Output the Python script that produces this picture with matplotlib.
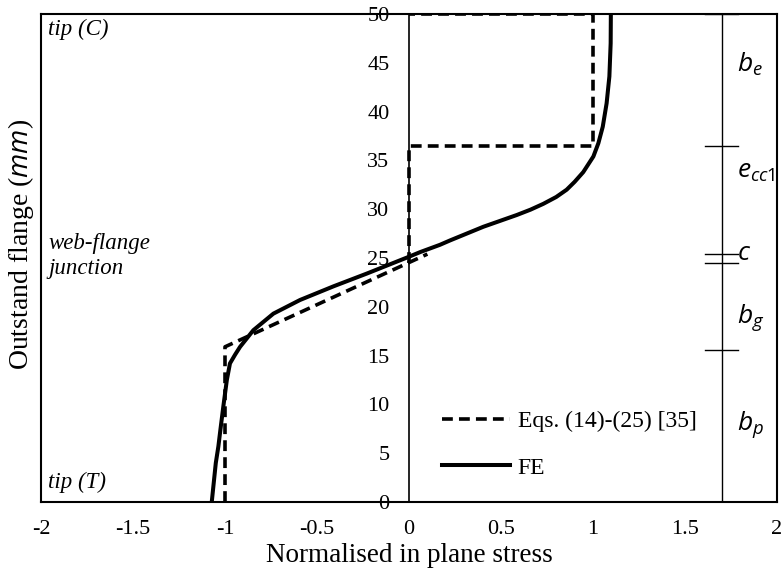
import matplotlib
matplotlib.use('Agg')
import matplotlib.pyplot as plt
import numpy as np

plt.rcParams['font.family'] = ['Liberation Serif', 'DejaVu Serif']
plt.rcParams['mathtext.fontset'] = 'custom'
plt.rcParams['mathtext.it'] = 'Open Sans:italic'
plt.rcParams['mathtext.rm'] = 'Open Sans'

# FE curve (stress, position along flange)
fe_stress = [-1.072, -1.05, -1.036, -1.025, -1.009, -0.99, -0.973, -0.945, -0.918, -0.846,
             -0.737, -0.592, -0.41, -0.23, -0.004, 0.06, 0.168, 0.223, 0.404, 0.585,
             0.66, 0.73, 0.80, 0.857, 0.90, 0.947, 1.002, 1.029, 1.053, 1.074, 1.089,
             1.096, 1.097]
fe_pos = [0, 4.0, 5.7, 7.4, 9.8, 12.5, 14.2, 15.1, 15.9, 17.6,
          19.3, 20.7, 22.1, 23.4, 25.1, 25.6, 26.35, 26.8, 28.2, 29.4,
          29.95, 30.55, 31.25, 32.0, 32.8, 33.8, 35.4, 36.75, 38.45, 40.85, 43.6,
          47.0, 50]

# Eqs. (14)-(25) [35], two dashed parts
eq_stress_a = [-1.0, -1.0, 0.1]
eq_pos_a = [0, 15.9, 25.4]
eq_stress_b = [0.0, 0.0, 1.0, 1.0, 0.0]
eq_pos_b = [24.5, 36.5, 36.5, 50, 50]

# bracket on the right: tick positions and labels
bracket_x = 1.7
bracket_ticks = [50, 36.5, 25.4, 24.5, 15.6]
bracket_labels = ['$b_e$', '$e_{cc1}$', '$c$', '$b_g$', '$b_p$']
bracket_label_y = [44.8, 33.7, 25.4, 18.9, 7.9]

fig = plt.figure(figsize=(7.83, 5.76), dpi=100)
ax = fig.add_axes([41 / 783, 1 - 502 / 576, 736 / 783, 488 / 576])

ax.plot(eq_stress_a, eq_pos_a, color='black', lw=2.6, ls=(0, (3, 1.7)),
        label='Eqs. (14)-(25) [35]')
ax.plot(eq_stress_b, eq_pos_b, color='black', lw=2.6, ls=(0, (3, 1.7)))
ax.plot(fe_stress, fe_pos, color='black', lw=2.9, label='FE')

ax.set_xlim(-2, 2)
ax.set_ylim(0, 50)
ax.set_xticks(np.arange(-2, 2.01, 0.5))
ax.set_xticklabels(['-2', '-1.5', '-1', '-0.5', '0', '0.5', '1', '1.5', '2'])
ax.set_yticks(range(0, 51, 5))
ax.tick_params(axis='both', length=0, labelsize=16)
ax.tick_params(axis='x', pad=13)
ax.tick_params(axis='y', pad=14)

# y axis drawn at zero, box frame kept
ax.spines['left'].set_position(('data', 0))
ax.spines['left'].set_linewidth(1.2)
for s in ['top', 'right', 'bottom']:
    ax.spines[s].set_linewidth(1.5)
ax.axvline(-2, color='black', lw=1.5, clip_on=False)

# bracket
ax.plot([bracket_x, bracket_x], [0, 50], color='black', lw=1)
for t in bracket_ticks:
    ax.plot([1.61, 1.79], [t, t], color='black', lw=1)
for lab, yy in zip(bracket_labels, bracket_label_y):
    ax.text(1.78, yy, lab, fontsize=19, va='center', ha='left')

ax.text(-1.96, 48.4, 'tip (C)', style='italic', fontsize=16.5, va='center')
ax.text(-1.96, 25.2, 'web-flange\njunction', style='italic', fontsize=16.5,
        va='center', linespacing=1.25)
ax.text(-1.96, 2.0, 'tip (T)', style='italic', fontsize=16.5, va='center')

ax.set_xlabel('Normalised in plane stress', fontsize=19.5, labelpad=3)
fig.text(0.027, 1 - 244 / 576, 'Outstand flange ($\\it{mm}$)', rotation=90,
         fontsize=20, va='center', ha='center')

ax.legend(loc='upper left', bbox_to_anchor=(0.532, 0.207), borderaxespad=0,
          frameon=False, fontsize=17, handlelength=2.9, handletextpad=0.3,
          labelspacing=1.07)

fig.savefig('out.png', dpi=100)
